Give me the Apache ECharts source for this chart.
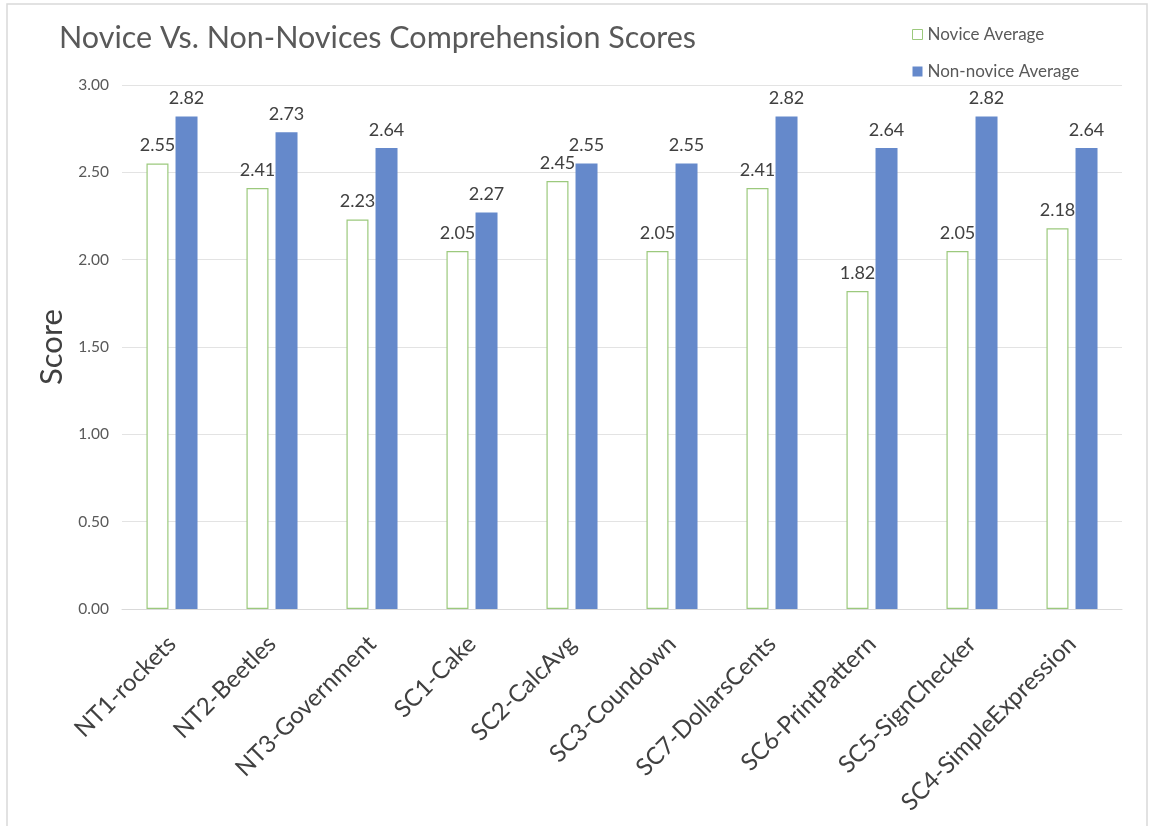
<!DOCTYPE html>
<html>
<head>
<meta charset="utf-8">
<script src="https://cdn.jsdelivr.net/npm/echarts@6/dist/echarts.min.js"></script>
<style>
  html, body { margin: 0; padding: 0; background: #ffffff; }
  #chart { width: 1149px; height: 826px; }
</style>
</head>
<body>
<div id="chart"></div>
<script>
// Comprehension task names
const categories = [
  'NT1-rockets', 'NT2-Beetles', 'NT3-Government', 'SC1-Cake', 'SC2-CalcAvg',
  'SC3-Coundown', 'SC7-DollarsCents', 'SC6-PrintPattern', 'SC5-SignChecker', 'SC4-SimpleExpression'
];
// Average scores per group
const noviceAverage = [2.55, 2.41, 2.23, 2.05, 2.45, 2.05, 2.41, 1.82, 2.05, 2.18];
const nonNoviceAverage = [2.82, 2.73, 2.64, 2.27, 2.55, 2.55, 2.82, 2.64, 2.82, 2.64];
// Score axis ticks
const scoreTicks = [0, 0.5, 1, 1.5, 2, 2.5, 3];

const FONT = 'Lato, "Open Sans", sans-serif';
const GREEN = '#9cc97d';
const BLUE = '#6589cb';

const chart = echarts.init(document.getElementById('chart'), null, { renderer: 'canvas' });

const labelStyle = {
  show: true,
  position: 'top',
  distance: 9,
  color: '#404040',
  fontFamily: FONT,
  fontSize: 18,
  formatter: p => p.value.toFixed(2)
};

chart.setOption({
  animation: false,
  backgroundColor: '#ffffff',
  graphic: [{
    type: 'rect',
    shape: { x: 7, y: 4, width: 1140, height: 840 },
    style: { fill: 'none', stroke: '#d9d9d9', lineWidth: 1.5 },
    silent: true
  }],
  title: {
    text: 'Novice Vs. Non-Novices Comprehension Scores',
    left: 54,
    top: 18,
    textStyle: { color: '#595959', fontFamily: FONT, fontSize: 30.5, fontWeight: 'normal' }
  },
  legend: {
    orient: 'vertical',
    left: 907,
    top: 21,
    itemGap: 20,
    itemWidth: 10,
    itemHeight: 10,
    textStyle: { color: '#595959', fontFamily: FONT, fontSize: 17 },
    data: [
      { name: 'Novice Average', icon: 'rect', itemStyle: { color: '#ffffff', borderColor: GREEN, borderWidth: 1 } },
      { name: 'Non-novice Average', icon: 'rect', itemStyle: { color: BLUE, borderWidth: 0 } }
    ]
  },
  grid: { left: 122, right: 27, top: 85, bottom: 217, containLabel: false },
  xAxis: {
    type: 'category',
    data: categories,
    axisLine: { lineStyle: { color: '#d9d9d9', width: 1 } },
    axisTick: { show: false },
    axisLabel: {
      rotate: 45,
      interval: 0,
      margin: 31,
      color: '#404040',
      fontFamily: FONT,
      fontSize: 24
    }
  },
  yAxis: {
    type: 'value',
    min: scoreTicks[0],
    max: scoreTicks[scoreTicks.length - 1],
    interval: scoreTicks[1] - scoreTicks[0],
    name: 'Score',
    nameLocation: 'middle',
    nameGap: 52,
    nameRotate: 90,
    nameTextStyle: { color: '#404040', fontFamily: FONT, fontSize: 31 },
    axisLine: { show: false },
    axisTick: { show: false },
    splitLine: { lineStyle: { color: '#e3e3e3', width: 1 } },
    axisLabel: {
      color: '#595959',
      fontFamily: FONT,
      fontSize: 15.5,
      margin: 13,
      formatter: v => v.toFixed(2)
    }
  },
  series: [
    {
      name: 'Novice Average',
      type: 'bar',
      data: noviceAverage,
      barWidth: 22,
      barGap: '32%',
      itemStyle: { color: '#ffffff', borderColor: GREEN, borderWidth: 1.2 },
      label: labelStyle
    },
    {
      name: 'Non-novice Average',
      type: 'bar',
      data: nonNoviceAverage,
      barWidth: 22,
      barGap: '32%',
      itemStyle: { color: BLUE },
      label: labelStyle
    }
  ]
});
</script>
</body>
</html>
